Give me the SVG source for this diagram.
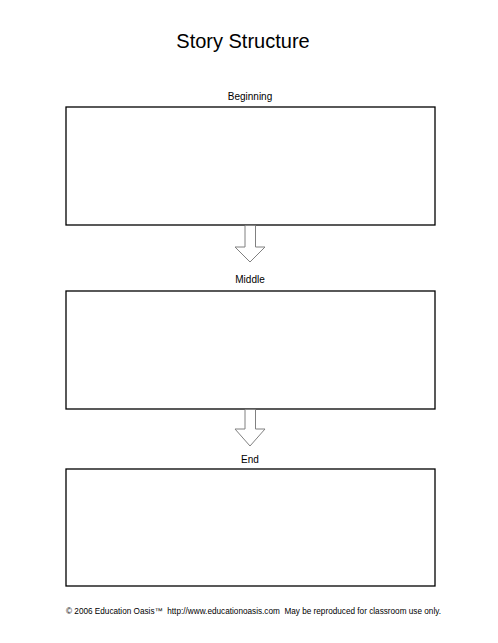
<svg xmlns="http://www.w3.org/2000/svg" width="498" height="643" viewBox="0 0 498 643">
<style>
text{font-family:"Liberation Sans",Arial,sans-serif;fill:#000;text-anchor:middle}
.box{fill:#fff;stroke:#000;stroke-width:1.3}
.arrow{fill:#fff;stroke:#808080;stroke-width:1}
.lbl{font-size:10px}
</style>
<rect width="498" height="643" fill="#fff"/>
<text x="243" y="48" font-size="20">Story Structure</text>
<g id="beginning">
<text class="lbl" x="250" y="100">Beginning</text>
<rect class="box" x="66" y="107" width="369" height="118"/>
</g>
<g id="middle">
<text class="lbl" x="250" y="283">Middle</text>
<rect class="box" x="66" y="291" width="369" height="118"/>
</g>
<g id="end">
<text class="lbl" x="250" y="463">End</text>
<rect class="box" x="66" y="469" width="369" height="117"/>
</g>
<g id="connectors">
<path class="arrow" d="M245,225.7 V247 H235 L250,262 L265,247 H255.5 V225.7"/>
<path class="arrow" d="M245,409.7 V429 H235 L250,446 L265,429 H255.5 V409.7"/>
</g>
<text x="253.5" y="614" font-size="8.2" xml:space="preserve" style="white-space:pre" textLength="375" lengthAdjust="spacing">© 2006 Education Oasis™  http://www.educationoasis.com  May be reproduced for classroom use only.</text>
</svg>
